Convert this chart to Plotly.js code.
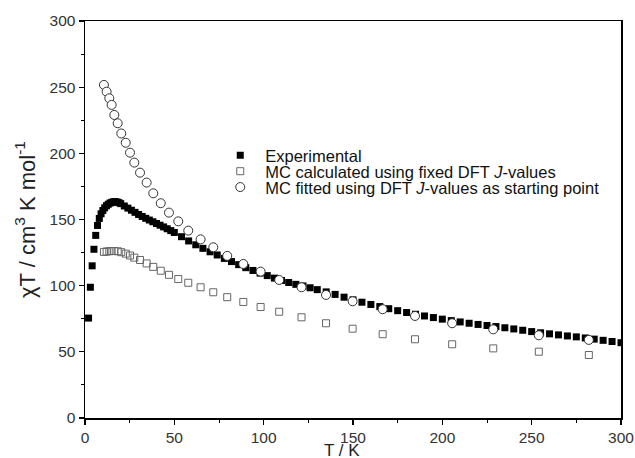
<!DOCTYPE html>
<html>
<head>
<meta charset="utf-8">
<script src="https://cdn.plot.ly/plotly-3.0.1.min.js"></script>
<style>html,body{margin:0;padding:0;background:#fff;}#chart{width:635px;height:458px;}</style>
</head>
<body>
<div id="chart"></div>
<script>
// Experimental data
var expT = [2,3,4,5,6,7,8,9,10,11,12,13,14,15,16,17,18,19,20,
  22,24,26,28,30,32,34,36,38,40,42,44,46,48,50,
  54,58,62,66,70,74,78,82,86,90,94,98,102,106,110,114,118,122,126,130,
  135,140,145,150,155,160,165,170,175,180,185,190,195,200,205,210,215,220,225,230,235,240,245,250,255,260,265,270,275,280,285,290,295,300];
var expChiT = [75.5,98.8,115,127.5,138,145.5,150.8,154.3,156.8,158.8,160.4,161.5,162.4,163,163.4,163.5,163.2,162.7,162,
  160.2,158.6,157,155.4,153.8,152.3,150.9,149.6,148.3,147,145.7,144.4,143,141.6,140.2,
  137,133.8,130.9,128.2,125.6,123.2,120.6,118.2,115.9,113.6,111.5,109.5,107.6,105.7,103.9,102.4,101,99.8,98.4,97,
  95.3,93.4,91.3,89.3,87.5,85.8,84.2,82.6,81.1,79.7,78.4,77.1,75.9,74.7,73.6,72.6,71.6,70.7,69.9,69.1,68.2,67.3,66.3,65.3,64.4,63.6,62.8,62,61.3,60.5,59.6,58.7,57.8,56.9];

// Monte Carlo temperatures (shared)
var mcT = [10.6,12.1,13.6,14.9,16.4,18.3,20.3,22.8,25.2,27.6,30.8,34.5,38.2,42.4,47,52.2,57.8,64.7,71.8,79.6,88.6,98.3,108.7,121.2,134.9,149.8,166.6,184.7,205.5,228.5,254,282];
// MC calculated using fixed DFT J-values
var mcFixed = [125.5,125.8,126,126.2,126.2,126,125.3,124.2,122.8,121.2,119.4,116.8,114.2,111.3,108.2,105,102.2,98.8,95,91.3,87.7,83.9,80.3,76.1,71.6,67.5,63.3,59.5,55.7,52.6,50.1,47.6];
// MC fitted using DFT J-values as starting point
var mcFitted = [251.7,246.6,241.6,236.6,229,222.7,215,208,200.5,193,185.4,177.9,169.8,162.3,155.2,148.6,141.6,135,129,122.5,116.4,110.6,104.3,98.8,93,88.2,82.2,77.1,71.6,67,62.5,59];

var names = ['Experimental', 'MC calculated using fixed DFT <i>J</i>-values', 'MC fitted using DFT <i>J</i>-values as starting point'];
var xTickVals = [0,50,100,150,200,250,300];
var yTickVals = [0,50,100,150,200,250,300];
var xTitle = 'T / K';
var yTitle = 'χT / cm<sup>3</sup> K mol<sup>-1</sup>';

var FONT = 'Liberation Sans, Arial, sans-serif';

var traces = [
  {x: expT, y: expChiT, type: 'scatter', mode: 'markers', name: names[0], legend: 'legend',
   marker: {symbol: 'square', size: 7, color: '#000', line: {width: 0}}},
  {x: mcT, y: mcFixed, type: 'scatter', mode: 'markers', name: names[1], legend: 'legend2',
   marker: {symbol: 'square-open', size: 7, color: '#666', line: {width: 1, color: '#666'}}},
  {x: mcT, y: mcFitted, type: 'scatter', mode: 'markers', name: names[2], legend: 'legend3',
   marker: {symbol: 'circle', size: 9, color: '#fff', line: {width: 1, color: '#333'}}}
];

var axisCommon = {
  showgrid: false, zeroline: false, showline: true, linecolor: '#000', linewidth: 1.5,
  mirror: true, ticks: 'outside', ticklen: 5, tickwidth: 1.2, tickcolor: '#000',
  tickfont: {family: FONT, size: 15.5, color: '#333'},
  minor: {ticks: 'outside', ticklen: 3, tickwidth: 1, tickcolor: '#000', dtick: 25}
};

function leg(yc) {
  return {x: 0.243, y: yc, xanchor: 'left', yanchor: 'middle', bgcolor: 'rgba(0,0,0,0)',
    font: {family: FONT, size: 16.5, color: '#111'}, itemwidth: 40, borderwidth: 0};
}

var layout = {
  width: 635, height: 458,
  margin: {l: 85, r: 14, t: 21, b: 40},
  paper_bgcolor: '#fff', plot_bgcolor: '#fff',
  showlegend: true,
  legend: leg(0.661), legend2: leg(0.621), legend3: leg(0.581),
  xaxis: Object.assign({}, axisCommon, {range: [0, 300], tickvals: xTickVals}),
  yaxis: Object.assign({}, axisCommon, {range: [0, 300], tickvals: yTickVals,
    title: {text: yTitle, standoff: 8, font: {family: FONT, size: 22, color: '#222'}}}),
  annotations: [
    {text: xTitle, xref: 'paper', yref: 'paper', x: 0.479, y: -0.081, xanchor: 'center', yanchor: 'middle',
     showarrow: false, font: {family: FONT, size: 17, color: '#222'}}
  ]
};

Plotly.newPlot('chart', traces, layout, {displayModeBar: false, staticPlot: true});
</script>
</body>
</html>
